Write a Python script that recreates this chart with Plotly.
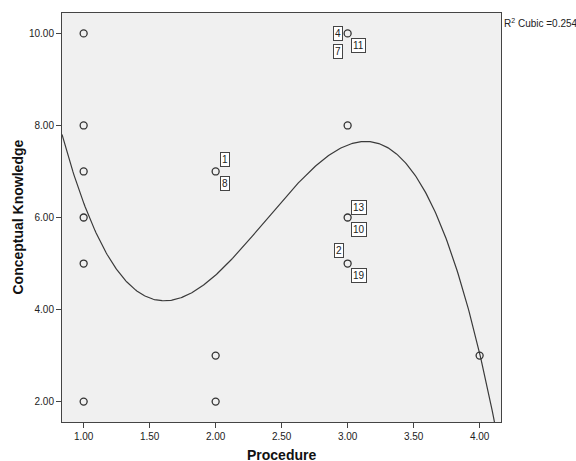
import numpy as np
import plotly.graph_objects as go

# Scatter data (Procedure vs Conceptual Knowledge)
proc = [1, 1, 1, 1, 1, 1, 2, 2, 2, 3, 3, 3, 3, 4]
know = [10, 8, 7, 6, 5, 2, 7, 3, 2, 10, 8, 6, 5, 3]

# Case labels shown in boxes: (x, y, text)
label_x = [3, 3, 3, 2, 2, 3, 3, 3, 3]
label_y = [10, 10, 10, 7, 7, 6, 6, 5, 5]
label_text = ["4", "7", "11", "1", "8", "13", "10", "2", "19"]
# pixel offsets of the boxes from their point (style)
label_dx = [-10, -9.5, 11, 9, 9, 11, 11, -9, 11]
label_dy = [0, -18, -12, 12, -12, 10, -12, 13, -12]

# Points
fit_x = [0.836, 1.0, 1.076, 1.202, 1.329, 1.455, 1.619, 1.833, 2.086, 2.339,
         2.944, 3.134, 3.32, 3.45, 3.576, 3.70, 3.83, 3.955, 4.0, 4.10]
fit_y = [7.87, 6.20, 5.73, 5.08, 4.65, 4.36, 4.226, 4.39, 5.01, 5.77,
         7.46, 7.58, 7.43, 7.11, 6.64, 5.99, 5.08, 3.56, 3.0, 1.6]

x_range = [0.836, 4.162]
y_range = [1.557, 10.443]
x_ticks = [1.0, 1.5, 2.0, 2.5, 3.0, 3.5, 4.0]
y_ticks = [2.0, 4.0, 6.0, 8.0, 10.0]

coef = np.polyfit(fit_x, fit_y, 3)
cx = np.linspace(x_range[0], x_range[1], 400)
cy = np.polyval(coef, cx)

fig = go.Figure()
fig.add_trace(go.Scatter(x=cx, y=cy, mode="lines",
                         line=dict(color="#3a3a3a", width=1.2),
                         hoverinfo="skip", showlegend=False))
fig.add_trace(go.Scatter(x=proc, y=know, mode="markers",
                         marker=dict(symbol="circle-open", size=7,
                                     color="#333333", line=dict(width=1.3)),
                         showlegend=False, cliponaxis=False))

annotations = []
for lx, ly, lt, dx, dy in zip(label_x, label_y, label_text, label_dx, label_dy):
    annotations.append(dict(x=lx, y=ly, xref="x", yref="y", text=lt,
                            showarrow=False, xshift=dx, yshift=dy,
                            font=dict(family="Liberation Sans, Arial", size=10, color="#222222"),
                            bgcolor="white", bordercolor="#444444",
                            borderwidth=1, borderpad=1))

annotations.append(dict(x=1, y=1, xref="paper", yref="paper",
                        text="R<sup>2</sup> Cubic =0.254", showarrow=False,
                        xanchor="left", yanchor="top", xshift=1, yshift=-2,
                        font=dict(family="Liberation Sans, Arial", size=10, color="#222222")))
annotations.append(dict(x=0.5, y=0, xref="paper", yref="paper", text="<b>Procedure</b>",
                        showarrow=False, xanchor="center", yanchor="middle", yshift=-33,
                        font=dict(family="Liberation Sans, Arial", size=14, color="#111111")))
annotations.append(dict(x=0, y=0.5, xref="paper", yref="paper", text="<b>Conceptual Knowledge</b>",
                        showarrow=False, xanchor="center", yanchor="middle", xshift=-45,
                        textangle=-90,
                        font=dict(family="Liberation Sans, Arial", size=14, color="#111111")))

fig.update_layout(
    width=576, height=461,
    margin=dict(l=62, r=75, t=13, b=39, pad=0),
    paper_bgcolor="white", plot_bgcolor="#f0f0f0",
    annotations=annotations,
    font=dict(family="Liberation Sans, Arial", size=10, color="#222222"),
)
fig.update_xaxes(range=x_range, tickvals=x_ticks,
                 ticktext=[f"{v:.2f}" for v in x_ticks],
                 showgrid=False, zeroline=False, showline=True, mirror=True,
                 linecolor="#444444", linewidth=1, ticks="outside", ticklen=5,
                 tickcolor="#444444", tickfont=dict(size=10, color="#222222"))
fig.update_yaxes(range=y_range, tickvals=y_ticks,
                 ticktext=[f"{v:.2f}" for v in y_ticks],
                 showgrid=False, zeroline=False, showline=True, mirror=True,
                 linecolor="#444444", linewidth=1, ticks="outside", ticklen=5,
                 tickcolor="#444444", tickfont=dict(size=10, color="#222222"))

fig.write_html("out.html")
